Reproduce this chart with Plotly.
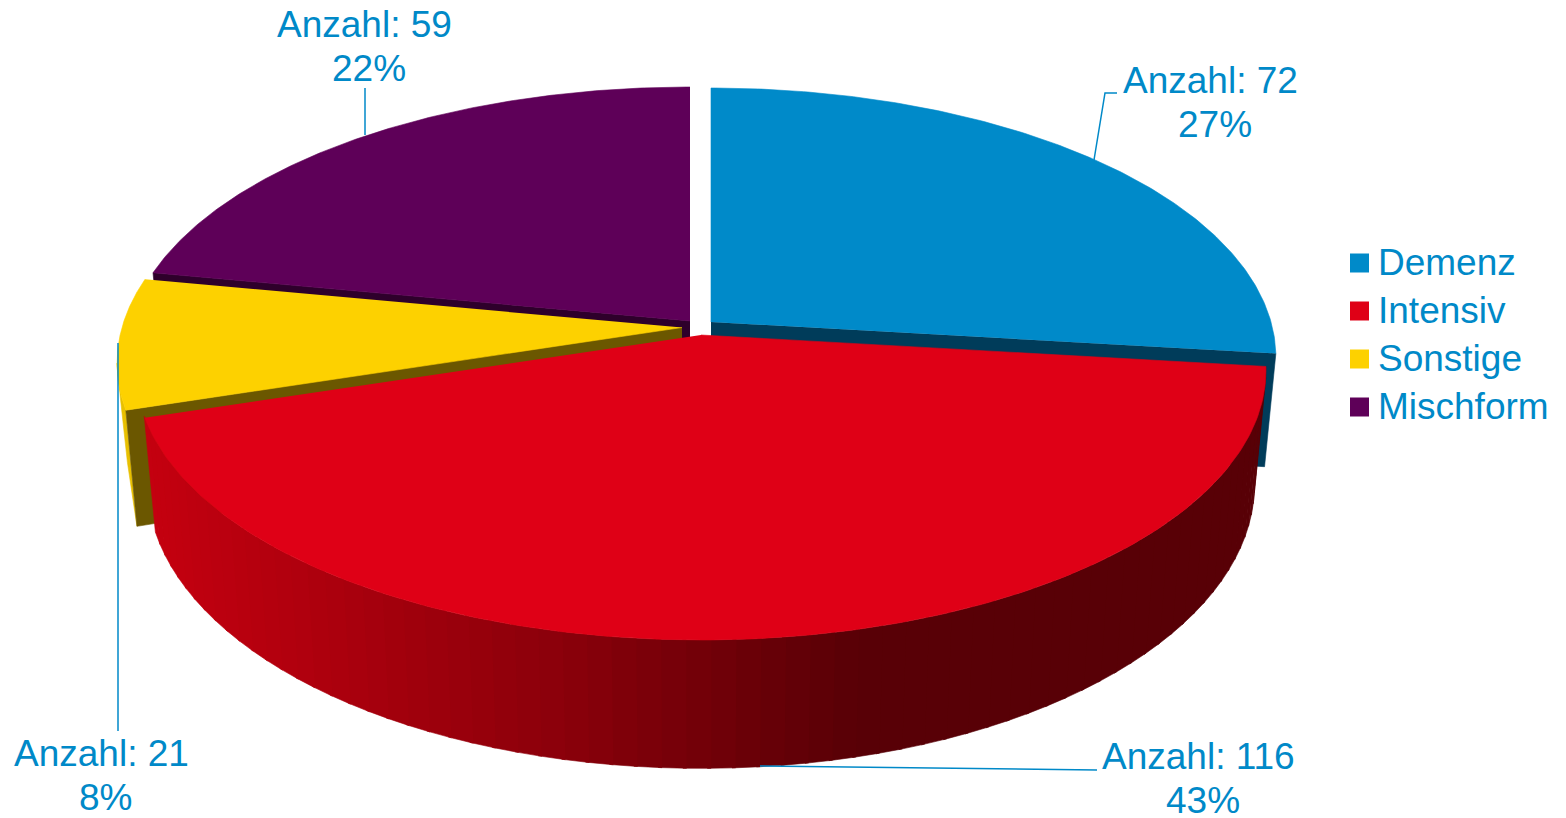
import math
import plotly.graph_objects as go

# ---- data ----
categories = ["Demenz", "Intensiv", "Sonstige", "Mischform"]
counts = [72, 116, 21, 59]
percents = [27, 43, 8, 22]
top_colors = ["#008ac9", "#df0016", "#fdd100", "#5e0058"]
radial_wall_colors = ["#003c5a", None, "#6b5700", "#2e002b"]
text_color = "#0089c8"

# ---- projection of the tilted disc onto the page (page pixels) ----
W, H_PAGE = 1566, 818
R, B, K = 560.0, 264.8, 0.1317
THICK, SHRINK = 111.5, 0.02
apex = {"Demenz": (711, 322), "Intensiv": (701, 335), "Sonstige": (682, 327.5), "Mischform": (690, 321)}


def proj(name, theta, level=0.0):
    ax, ay = apex[name]
    u, v = math.sin(theta), -math.cos(theta)
    s = 1 / (1 - K * v)
    return ax + R * u * s * (1 - SHRINK * level), ay + B * v * s + THICK * s * level


total = sum(counts)
spans = {}
acc = 0
for c, n in zip(categories, counts):
    spans[c] = (2 * math.pi * acc / total, 2 * math.pi * (acc + n) / total)
    acc += n


def arc(name, t0, t1, level=0.0, n=180):
    return [proj(name, t0 + (t1 - t0) * i / n, level) for i in range(n + 1)]


fig = go.Figure()


def poly(pts, color):
    fig.add_trace(go.Scatter(x=[p[0] for p in pts], y=[p[1] for p in pts], mode="lines", fill="toself",
                             fillcolor=color, line=dict(color=color, width=0.6), showlegend=False, hoverinfo="skip"))


def radial_wall(name, theta, color):
    ax, ay = apex[name]
    p0, p1 = proj(name, theta, 0), proj(name, theta, 1)
    poly([(ax, ay), p0, p1, (ax, ay + THICK)], color)


def top(name, color):
    t0, t1 = spans[name]
    poly([apex[name]] + arc(name, t0, t1), color)


# Mischform
t0, t1 = spans["Mischform"]
radial_wall("Mischform", t0, radial_wall_colors[3])
top("Mischform", top_colors[3])

# Demenz
t0, t1 = spans["Demenz"]
radial_wall("Demenz", t1, radial_wall_colors[0])
top("Demenz", top_colors[0])

# Sonstige: outer wall shows as a thin sliver left of the cut face
t0, t1 = spans["Sonstige"]
rim = arc("Sonstige", t0, t1)
left_i = min(range(len(rim)), key=lambda i: rim[i][0])
sliver = [(math.radians(9.5), 0.3), (math.radians(3.5), 0.6), (0.0, 1.0)]
poly(rim[: left_i + 1] + [proj("Sonstige", t0 + d, lv) for d, lv in sliver], "#e8c000")
radial_wall("Sonstige", t0, radial_wall_colors[2])
top("Sonstige", top_colors[2])

# Intensiv: outer wall shaded in strips, from left to right on the page
shade_x = [150, 300, 550, 860, 1270]
shade_rgb = [(196, 0, 16), (176, 0, 14), (140, 0, 11), (88, 0, 6), (88, 0, 6)]


def shade(x):
    for i in range(len(shade_x) - 1):
        if x <= shade_x[i + 1]:
            f = max(0, (x - shade_x[i]) / (shade_x[i + 1] - shade_x[i]))
            return "rgb(%d,%d,%d)" % tuple(a + (b - a) * f for a, b in zip(shade_rgb[i], shade_rgb[i + 1]))
    return "rgb(%d,%d,%d)" % shade_rgb[-1]


t0, t1 = spans["Intensiv"]
N = 70
for i in range(N):
    a, b = t0 + (t1 - t0) * i / N, t0 + (t1 - t0) * (i + 1.15) / N
    mid = proj("Intensiv", (a + b) / 2)[0]
    poly(arc("Intensiv", a, b, 0, 4) + arc("Intensiv", b, a, 1, 4), shade(mid))
top("Intensiv", top_colors[1])

# leader lines
leaders = {
    "Demenz": ([1117, 1105, 1094], [93, 93, 160]),
    "Intensiv": ([760, 1097], [766, 770]),
    "Sonstige": ([118, 118], [343, 731]),
    "Mischform": ([365, 365], [88, 135]),
}
for c in categories:
    fig.add_trace(go.Scatter(x=leaders[c][0], y=leaders[c][1], mode="lines",
                             line=dict(color=text_color, width=1.5), showlegend=False, hoverinfo="skip"))

annotations = []
FONT = dict(family="Liberation Sans", size=37, color=text_color)

# legend, drawn on the page so its swatch size and row pitch can match
LEG_X, LEG_TEXT_X, LEG_Y, LEG_STEP = 1359.5, 1378, 263, 48
for i, (c, col) in enumerate(zip(categories, top_colors)):
    y = LEG_Y + i * LEG_STEP
    fig.add_trace(go.Scatter(x=[LEG_X], y=[y], mode="markers", name=c, showlegend=False, hoverinfo="skip",
                             marker=dict(symbol="square", size=19, color=col, line=dict(width=0))))
    annotations.append(dict(x=LEG_TEXT_X, y=y - 1, xref="x", yref="y", text=c, showarrow=False,
                            xanchor="left", yanchor="middle", xshift=-2, font=FONT))

# labels
label_pos = {"Demenz": (1210, 80), "Intensiv": (1198, 756), "Sonstige": (101, 753), "Mischform": (364, 24)}
LINE_GAP, PCT_SHIFT = 44, 4.5
for c, n, p in zip(categories, counts, percents):
    x, y = label_pos[c]
    for txt, xx, yy in ((f"Anzahl: {n}", x, y), (f"{p}%", x + PCT_SHIFT, y + LINE_GAP)):
        annotations.append(dict(x=xx, y=yy, xref="x", yref="y", text=txt, showarrow=False,
                                xanchor="center", yanchor="middle", font=FONT))

fig.update_layout(
    width=W, height=H_PAGE, margin=dict(l=0, r=0, t=0, b=0),
    paper_bgcolor="white", plot_bgcolor="white", showlegend=False,
    xaxis=dict(range=[0, W], visible=False, fixedrange=True),
    yaxis=dict(range=[H_PAGE, 0], visible=False, fixedrange=True),
    annotations=annotations,
)
fig.write_html("out.html", config={"displayModeBar": False},
               post_script="document.body.style.margin='0';document.body.style.overflow='hidden';")
